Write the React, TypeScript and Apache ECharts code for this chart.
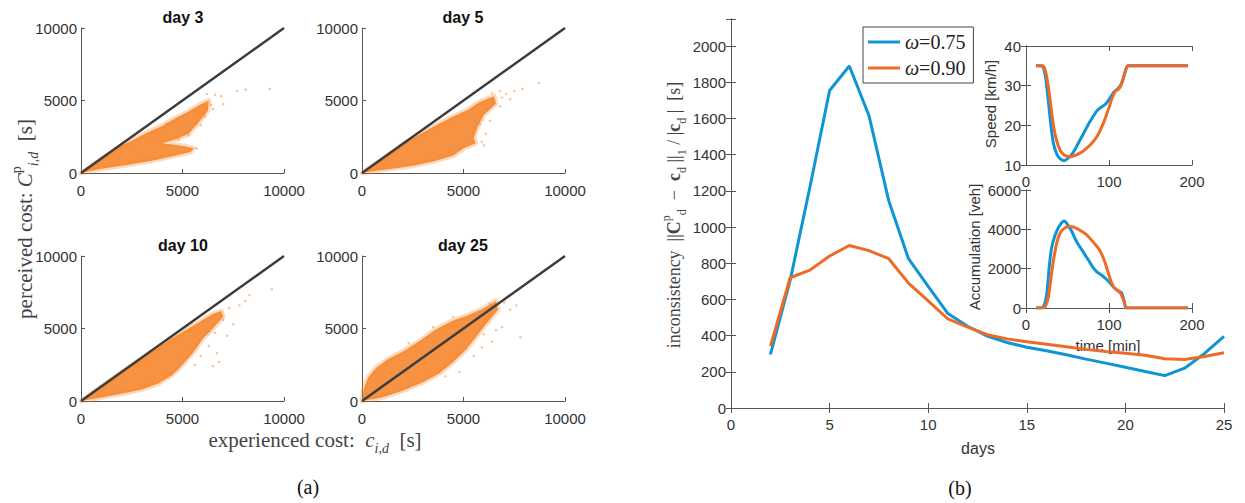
import React, { useEffect, useRef } from 'react';
import * as echarts from 'echarts';

const SANS = '"Liberation Sans", Arial, Helvetica, sans-serif';
const SERIF = '"Liberation Serif", "Times New Roman", serif';
const BLUE = '#0E95D4';
const ORANGE = '#EE6A27';
const CLOUD = '#F5862C';
const AXIS = '#555555';
const LABEL = '#333333';

// ---- (b) main chart ----
const days = [2, 3, 4, 5, 6, 7, 8, 9, 10, 11, 12, 13, 14, 15, 16, 17, 18, 19, 20, 21, 22, 23, 24, 25];
const inconsistencyW075 = [297, 705, 1220, 1755, 1890, 1615, 1145, 825, 672, 522, 452, 397, 362, 336, 316, 294, 270, 248, 225, 202, 179, 220, 300, 396];
const inconsistencyW090 = [342, 720, 762, 840, 898, 870, 825, 690, 592, 492, 447, 405, 382, 366, 352, 338, 324, 312, 302, 292, 272, 268, 285, 305];
const legendNames = ['ω=0.75', 'ω=0.90'];

// ---- insets: [time min, value] ----
const speedW075 = [[12, 35], [18, 35], [21, 34.5], [24, 31.5], [27, 26], [30, 20], [33, 15.5], [37, 12.8], [41, 11.6], [46, 11.1], [50, 11.6], [55, 12.6], [60, 14.3], [65, 16.3], [70, 18.2], [75, 20.2], [81, 22.3], [86, 23.8], [91, 24.6], [96, 25.4], [101, 26.8], [106, 28.4], [111, 29.3], [115, 30.5], [119, 33], [123, 35], [195, 35]];
const speedW090 = [[12, 35], [20, 35], [23, 34], [26, 31], [29, 26.5], [32, 21.5], [35, 17.8], [39, 14.8], [43, 13.1], [48, 12.3], [55, 12.1], [60, 12.5], [65, 13], [70, 13.7], [75, 14.6], [80, 15.7], [85, 17], [90, 19], [95, 21.5], [100, 24.5], [104, 27], [108, 28.7], [112, 29.2], [116, 31], [120, 34], [123, 35], [195, 35]];
const accumW075 = [[12, 0], [19, 0], [22, 150], [25, 700], [28, 2100], [31, 3100], [35, 3700], [39, 4080], [43, 4330], [46, 4420], [50, 4250], [55, 3900], [60, 3450], [65, 3100], [70, 2780], [75, 2450], [80, 2100], [85, 1850], [90, 1700], [95, 1530], [100, 1330], [105, 1080], [110, 900], [115, 780], [118, 400], [121, 0], [195, 0]];
const accumW090 = [[12, 0], [21, 0], [24, 150], [27, 550], [30, 1500], [33, 2400], [37, 3300], [41, 3800], [46, 4050], [52, 4150], [57, 4120], [62, 4020], [67, 3900], [72, 3760], [77, 3550], [82, 3300], [87, 3050], [91, 2750], [95, 2350], [99, 1800], [103, 1300], [106, 1050], [110, 900], [114, 750], [118, 350], [121, 0], [195, 0]];

// ---- (a) scatter panels: [experienced, perceived] ----
const panelTitles = ['day 3', 'day 5', 'day 10', 'day 25'];
const cloudDay3 = [[0, 0], [1000, 950], [2000, 1900], [2600, 2300], [3200, 2750], [4000, 3250], [4600, 3750], [5300, 4250], [5900, 4750], [6300, 5000], [6250, 4300], [5800, 3500], [5300, 2700], [4700, 2350], [4000, 2050], [4600, 1950], [5100, 1850], [5550, 1700], [5400, 1450], [4500, 1150], [3500, 850], [2500, 600], [1500, 400], [800, 250], [0, 0]];
const cloudDay5 = [[0, 0], [1000, 950], [2200, 2150], [3000, 2800], [3800, 3400], [4500, 3900], [5200, 4350], [5800, 4900], [6500, 5300], [6600, 4800], [6000, 4000], [5700, 3200], [5500, 2400], [5600, 2050], [5000, 1700], [4500, 1200], [3500, 800], [2500, 500], [1500, 300], [700, 150], [0, 0]];
const cloudDay10 = [[0, 0], [1000, 1000], [2500, 2450], [3500, 3400], [4500, 4350], [5300, 5000], [5900, 5500], [6500, 6000], [6900, 6200], [7000, 5800], [6500, 5000], [6000, 4300], [5500, 3300], [5000, 2500], [4500, 1800], [3800, 1200], [3000, 800], [2000, 500], [1000, 250], [0, 0]];
const cloudDay25 = [[0, 0], [100, 900], [300, 1600], [700, 2300], [1300, 2900], [2000, 3400], [2800, 4100], [3600, 4900], [4400, 5500], [5200, 5900], [6000, 6400], [6600, 6900], [6700, 6300], [6100, 5300], [5600, 4400], [5100, 3500], [4500, 2700], [3800, 1900], [3000, 1300], [2000, 700], [1000, 250], [0, 0]];
const outliersDay3 = [[9300, 5800], [8100, 5750], [7700, 5650], [6600, 5400], [7000, 4750], [6900, 5300], [6200, 5450], [5900, 3300], [6100, 3900], [6500, 4400], [5300, 2600], [5700, 1700], [4800, 2300], [6400, 4700], [5600, 4300], [4200, 3400]];
const outliersDay5 = [[8700, 6200], [7900, 5800], [7500, 5650], [7100, 5450], [6800, 4600], [6300, 3600], [6100, 2700], [5900, 2150], [7300, 5100], [6800, 5650], [6100, 4400], [5800, 3400], [6900, 5200], [6400, 5500], [6000, 1900]];
const outliersDay10 = [[9400, 7700], [8100, 6900], [7800, 6600], [8300, 7300], [7500, 5300], [6700, 3300], [6800, 2700], [6500, 2400], [7200, 4500], [6300, 3800], [5900, 3100], [7300, 6400], [7000, 5600], [6600, 4700], [5600, 2500]];
const outliersDay25 = [[7800, 4400], [7600, 6600], [7300, 6300], [6900, 5100], [6600, 4900], [6400, 4100], [6000, 4600], [5500, 3100], [4800, 2000], [7000, 6800], [6300, 6700], [4500, 5800], [3500, 5100], [2300, 4000], [5900, 3700], [4100, 1700]];
const identityLine = [[0, 0], [10000, 10000]];

const clouds = [cloudDay3, cloudDay5, cloudDay10, cloudDay25];
const outliers = [outliersDay3, outliersDay5, outliersDay10, outliersDay25];

export default function App() {
  const ref = useRef<HTMLDivElement>(null);
  useEffect(() => {
    document.body.style.margin = '0';
    const chart = echarts.init(ref.current!, undefined, { renderer: 'svg' });

    const scatterGrids = [
      { left: 81, top: 28, width: 203, height: 145 },
      { left: 362, top: 28, width: 203, height: 145 },
      { left: 81, top: 256, width: 203, height: 145 },
      { left: 362, top: 256, width: 203, height: 145 },
    ];
    const grids: any[] = [
      ...scatterGrids,
      { left: 731, top: 19, width: 493, height: 389 },
      { left: 1026, top: 46, width: 166, height: 119 },
      { left: 1026, top: 190, width: 166, height: 118 },
    ].map((g) => ({ ...g, containLabel: false, outerBoundsMode: 'none' }));

    const plain = (v: number) => String(v);
    const tickLabel = { color: LABEL, fontSize: 15, fontFamily: SANS };
    const xAxes: any[] = [];
    const yAxes: any[] = [];
    for (let i = 0; i < 4; i++) {
      xAxes.push({
        gridIndex: i, type: 'value', min: 0, max: 10000, interval: 5000,
        axisLine: { show: true, lineStyle: { color: AXIS, width: 1 } },
        axisTick: { show: true, inside: true, length: 4, lineStyle: { color: AXIS } },
        splitLine: { show: false },
        axisLabel: { ...tickLabel, margin: 10, formatter: plain },
      });
      yAxes.push({
        gridIndex: i, type: 'value', min: 0, max: 10000, interval: 5000,
        axisLine: { show: true, lineStyle: { color: AXIS, width: 1 } },
        axisTick: { show: true, inside: true, length: 4, lineStyle: { color: AXIS } },
        splitLine: { show: false },
        axisLabel: { ...tickLabel, margin: 4, formatter: plain },
      });
    }
    const boxAxes = (grid: number, xr: number[], yr: number[], yFmt: (v: number) => string) => {
      const common = {
        gridIndex: grid, type: 'value',
        axisLine: { show: true, lineStyle: { color: AXIS, width: 1 } },
        axisTick: { show: true, inside: true, length: 5, lineStyle: { color: AXIS } },
        splitLine: { show: false },
      };
      xAxes.push({ ...common, position: 'bottom', min: xr[0], max: xr[1], interval: xr[2], axisLabel: { ...tickLabel, margin: 9, formatter: plain } });
      xAxes.push({ ...common, position: 'top', min: xr[0], max: xr[1], interval: xr[2], axisLabel: { show: false } });
      yAxes.push({ ...common, position: 'left', min: yr[0], max: yr[1], interval: yr[2], axisLabel: { ...tickLabel, margin: 5, formatter: yFmt } });
      yAxes.push({ ...common, position: 'right', min: yr[0], max: yr[1], interval: yr[2], axisLabel: { show: false } });
    };
    boxAxes(4, [0, 25, 5], [0, 2150, 200], (v: number) => (v > 2000 ? '' : String(v)));
    boxAxes(5, [0, 200, 100], [10, 40, 10], plain);
    boxAxes(6, [0, 200, 100], [0, 6000, 2000], plain);

    const series: any[] = [];
    for (let i = 0; i < 4; i++) {
      const outline = clouds[i];
      series.push({
        type: 'custom', xAxisIndex: i, yAxisIndex: i, silent: true, z: 2,
        data: [[0, 0]],
        renderItem: (_p: any, api: any) => ({
          type: 'polygon',
          shape: { points: outline.map((pt) => api.coord(pt)) },
          style: { fill: 'rgba(245,134,44,0.9)', stroke: 'rgba(245,134,44,0.3)', lineWidth: 5, lineJoin: 'round' },
        }),
      });
      series.push({
        type: 'scatter', xAxisIndex: i, yAxisIndex: i, silent: true, z: 3,
        data: outliers[i], symbolSize: 2.5,
        itemStyle: { color: CLOUD, opacity: 0.5 },
      });
      series.push({
        type: 'line', xAxisIndex: i, yAxisIndex: i, silent: true, z: 5,
        data: identityLine, symbol: 'none',
        lineStyle: { color: '#3c3c3c', width: 2.5 },
      });
    }
    series.push({
      name: legendNames[0], type: 'line', xAxisIndex: 4, yAxisIndex: 4, symbol: 'none',
      data: days.map((d, i) => [d, inconsistencyW075[i]]),
      lineStyle: { color: BLUE, width: 3 }, itemStyle: { color: BLUE },
    });
    series.push({
      name: legendNames[1], type: 'line', xAxisIndex: 4, yAxisIndex: 4, symbol: 'none',
      data: days.map((d, i) => [d, inconsistencyW090[i]]),
      lineStyle: { color: ORANGE, width: 3 }, itemStyle: { color: ORANGE },
    });
    const insetLine = (name: string, xi: number, data: number[][], color: string) => ({
      name, type: 'line', xAxisIndex: xi, yAxisIndex: xi, symbol: 'none', smooth: 0.2,
      data, lineStyle: { color, width: 3 }, itemStyle: { color },
    });
    series.push(insetLine('speed075', 6, speedW075, BLUE));
    series.push(insetLine('speed090', 6, speedW090, ORANGE));
    series.push(insetLine('accum075', 8, accumW075, BLUE));
    series.push(insetLine('accum090', 8, accumW090, ORANGE));

    const serifRich = (size: number, color: string) => {
      const s = Math.round(size * 0.68);
      return {
        n: { fontFamily: SERIF, fontSize: size, color, lineHeight: size + 10 },
        i: { fontFamily: SERIF, fontSize: size, color, fontStyle: 'italic', lineHeight: size + 10 },
        b: { fontFamily: SERIF, fontSize: size, color, fontWeight: 'bold', lineHeight: size + 10 },
        sup: { fontFamily: SERIF, fontSize: s, color, lineHeight: s + 1, verticalAlign: 'top' },
        sub: { fontFamily: SERIF, fontSize: s, color, lineHeight: s + 1, verticalAlign: 'bottom' },
        subi: { fontFamily: SERIF, fontSize: s, color, fontStyle: 'italic', lineHeight: s + 1, verticalAlign: 'bottom' },
      };
    };

    const titleText = (text: string, x: number, y: number) => ({
      type: 'text', x, y, silent: true,
      style: { text, fontFamily: SANS, fontSize: 16, fontWeight: 'bold', fill: '#111', align: 'center', verticalAlign: 'middle' },
    });
    const plainText = (text: string, x: number, y: number, font: string, size: number, color: string, rot = 0) => ({
      type: 'text', x, y, rotation: rot, silent: true,
      style: { text, fontFamily: font, fontSize: size, fill: color, align: 'center', verticalAlign: 'middle' },
    });
    const richText = (text: string, x: number, y: number, size: number, color: string, rot = 0) => ({
      type: 'text', x, y, rotation: rot, silent: true,
      style: { text, rich: serifRich(size, color), fontFamily: SERIF, fontSize: size, fill: color, align: 'center', verticalAlign: 'middle' },
    });

    const graphic: any[] = [
      titleText(panelTitles[0], 183, 17),
      titleText(panelTitles[1], 463, 17),
      titleText(panelTitles[2], 183, 245),
      titleText(panelTitles[3], 463, 245),
      richText('{n|perceived cost: }{i|C}{sup|p}{subi|i,d}{n|  [s]}', 25, 219, 21, '#444', Math.PI / 2),
      richText('{n|experienced cost:  }{i|c}{subi|i,d}{n|  [s]}', 315, 440, 21, '#444'),
      plainText('(a)', 308, 487, SERIF, 20, '#111'),
      plainText('(b)', 960, 488, SERIF, 20, '#111'),
      plainText('days', 978, 448, SANS, 16, '#333'),
      richText('{n|inconsistency  ||}{b|C}{sup|p}{sub|d}{n|  −  }{b|c}{sub|d}{n| ||}{sub|1}{n| / |}{b|c}{sub|d}{n| |  [s]}', 674, 215, 18, '#444', Math.PI / 2),
      plainText('time [min]', 1108, 345, SANS, 15, '#333'),
      plainText('Speed [km/h]', 990, 104, SANS, 15, '#333', Math.PI / 2),
      plainText('Accumulation [veh]', 974, 247, SANS, 15, '#333', Math.PI / 2),
    ];

    chart.setOption({
      animation: false,
      backgroundColor: '#ffffff',
      grid: grids,
      xAxis: xAxes,
      yAxis: yAxes,
      series,
      graphic,
      legend: {
        data: legendNames, left: 863, top: 27, orient: 'vertical', selectedMode: false,
        backgroundColor: '#ffffff', borderColor: '#444', borderWidth: 1,
        padding: [5, 8, 5, 5], itemGap: 6, itemWidth: 32, itemHeight: 3, icon: 'rect',
        formatter: (name: string) => `{i|ω}{n|${name.slice(1)}}`,
        textStyle: {
          fontFamily: SERIF, fontSize: 20, color: '#222',
          rich: {
            i: { fontFamily: SERIF, fontSize: 20, fontStyle: 'italic', color: '#222' },
            n: { fontFamily: SERIF, fontSize: 20, color: '#222' },
          },
        },
      },
    });
    return () => chart.dispose();
  }, []);
  return <div ref={ref} style={{ width: 1245, height: 503 }} />;
}
